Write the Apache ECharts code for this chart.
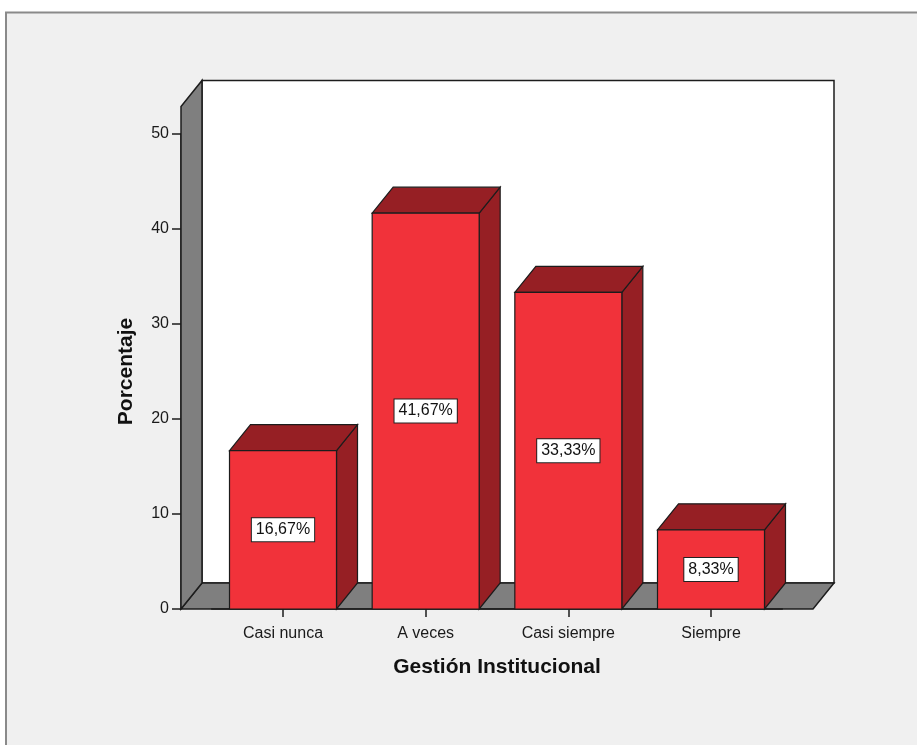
<!DOCTYPE html>
<html>
<head>
<meta charset="utf-8">
<script src="https://cdn.jsdelivr.net/npm/echarts@6/dist/echarts.min.js"></script>
<style>
  html, body { margin: 0; padding: 0; background: #ffffff; }
  #chart { width: 917px; height: 745px; }
</style>
</head>
<body>
<div id="chart"></div>
<script>
const categories = ['Casi nunca', 'A veces', 'Casi siempre', 'Siempre']
const percentages = [16.67, 41.67, 33.33, 8.33]
const yMin = 0
const yMax = 50
const yStep = 10

// look of the pseudo-3D box
const DX = 21
const DY = 26
const BAR_RATIO = 0.75
const SIDE_PAD = 0.215 // floor beyond the outer bands, in band widths
const WALL_TOP = 52.9 // value at which the side wall ends
const RED = '#f1323a'
const DARK_RED = '#961f24'
const WALL_GRAY = '#7f7f7f'
const EDGE = '#1c1c1c'
const FONT = '"Liberation Sans", Arial, sans-serif'

function pct(v) {
  return v.toFixed(2).replace('.', ',') + '%'
}

function renderFrame(params, api) {
  const cs = params.coordSys
  const pad = api.size([1, 0])[0] * SIDE_PAD
  const x0 = cs.x - pad
  const x1 = cs.x + cs.width + pad
  const y0 = api.coord([0, 0])[1]
  const yt = api.coord([0, WALL_TOP])[1]
  return {
    type: 'group',
    children: [
      {
        type: 'rect',
        shape: { x: x0 + DX, y: yt - DY, width: x1 - x0, height: y0 - yt },
        style: { fill: '#ffffff', stroke: EDGE, lineWidth: 1.5 },
      },
      {
        type: 'polygon',
        shape: { points: [[x0, y0], [x1, y0], [x1 + DX, y0 - DY], [x0 + DX, y0 - DY]] },
        style: { fill: WALL_GRAY, stroke: EDGE, lineWidth: 1.5 },
      },
      {
        type: 'polygon',
        shape: { points: [[x0, y0], [x0, yt], [x0 + DX, yt - DY], [x0 + DX, y0 - DY]] },
        style: { fill: WALL_GRAY, stroke: EDGE, lineWidth: 1.5 },
      },
    ],
  }
}

function renderBar(params, api) {
  const idx = api.value(0)
  const val = api.value(1)
  const base = api.coord([idx, 0])
  const top = api.coord([idx, val])
  const w = api.size([1, 0])[0] * BAR_RATIO
  const L = base[0] - w / 2
  const R = base[0] + w / 2
  const T = top[1]
  const B = base[1]
  return {
    type: 'group',
    children: [
      {
        type: 'polygon',
        shape: { points: [[R, T], [R + DX, T - DY], [R + DX, B - DY], [R, B]] },
        style: { fill: DARK_RED, stroke: EDGE, lineWidth: 1.2 },
      },
      {
        type: 'polygon',
        shape: { points: [[L, T], [R, T], [R + DX, T - DY], [L + DX, T - DY]] },
        style: { fill: DARK_RED, stroke: EDGE, lineWidth: 1.2 },
      },
      {
        type: 'rect',
        shape: { x: L, y: T, width: w, height: B - T },
        style: { fill: RED, stroke: EDGE, lineWidth: 1.2 },
      },
      {
        type: 'text',
        x: base[0],
        y: (T + B) / 2,
        style: {
          text: pct(val),
          fill: '#111',
          font: '16px ' + FONT,
          align: 'center',
          verticalAlign: 'middle',
          backgroundColor: '#ffffff',
          borderColor: '#222',
          borderWidth: 1,
          padding: [4, 4, 3, 4],
        },
      },
    ],
  }
}

const chart = echarts.init(document.getElementById('chart'), null, { renderer: 'canvas' })

chart.setOption({
  animation: false,
  backgroundColor: 'transparent',
  graphic: [
    {
      type: 'rect',
      z: -10,
      silent: true,
      shape: { x: 6, y: 12.5, width: 1000, height: 1000 },
      style: { fill: '#f0f0f0', stroke: '#8a8a8a', lineWidth: 2 },
    },
  ],
  grid: {
    left: 211.67,
    right: 134.67,
    top: 134,
    bottom: 136,
  },
  xAxis: {
    type: 'category',
    data: categories,
    name: 'Gestión Institucional',
    nameLocation: 'middle',
    nameGap: 48,
    nameTextStyle: { fontFamily: FONT, fontSize: 21, fontWeight: 'bold', color: '#111' },
    axisLine: { show: true, lineStyle: { color: EDGE, width: 1.5 } },
    axisTick: { show: true, alignWithLabel: true, length: 8, lineStyle: { color: EDGE, width: 1.5 } },
    axisLabel: { margin: 17, fontFamily: FONT, fontSize: 16, color: '#1a1a1a' },
    z: 1,
  },
  yAxis: {
    type: 'value',
    min: yMin,
    max: yMax,
    interval: yStep,
    offset: 30.67,
    name: 'Porcentaje',
    nameLocation: 'middle',
    nameGap: 44,
    nameTextStyle: { fontFamily: FONT, fontSize: 21, fontWeight: 'bold', color: '#111' },
    axisLine: { show: true, lineStyle: { color: EDGE, width: 1.5 } },
    axisTick: { show: true, length: 9, lineStyle: { color: EDGE, width: 1.5 } },
    axisLabel: { margin: 12, fontFamily: FONT, fontSize: 16, color: '#1a1a1a' },
    splitLine: { show: false },
  },
  series: [
    {
      type: 'custom',
      z: 1,
      silent: true,
      clip: false,
      renderItem: renderFrame,
      data: [[0, 0]],
      encode: { x: 0, y: 1 },
    },
    {
      type: 'custom',
      z: 3,
      silent: true,
      clip: false,
      renderItem: renderBar,
      data: percentages.map((v, i) => [i, v]),
      encode: { x: 0, y: 1 },
    },
  ],
})
</script>
</body>
</html>
